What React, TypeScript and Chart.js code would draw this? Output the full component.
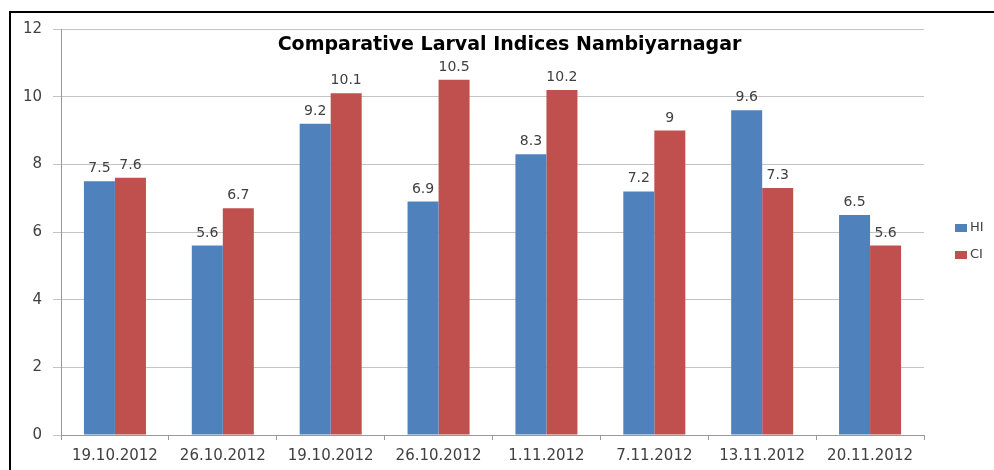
import React, { useEffect, useRef } from "react";
import { Chart, registerables } from "chart.js";

Chart.register(...registerables);

const categories = [
  "19.10.2012",
  "26.10.2012",
  "19.10.2012",
  "26.10.2012",
  "1.11.2012",
  "7.11.2012",
  "13.11.2012",
  "20.11.2012",
];
const hiValues = [7.5, 5.6, 9.2, 6.9, 8.3, 7.2, 9.6, 6.5];
const ciValues = [7.6, 6.7, 10.1, 10.5, 10.2, 9, 7.3, 5.6];
const seriesNames = ["HI", "CI"];
const seriesColors = ["#4F81BD", "#C0504D"];
const chartTitle = "Comparative Larval Indices Nambiyarnagar";

const FONT = "'DejaVu Sans', sans-serif";
const TEXT = "#404040";
const GRID = "#c4c4c4";

const framePlugin = {
  id: "frame",
  beforeDraw(chart: any) {
    const { ctx, width, height } = chart;
    ctx.save();
    ctx.fillStyle = "#ffffff";
    ctx.fillRect(0, 0, width, height);
    ctx.strokeStyle = "#000000";
    ctx.lineWidth = 2;
    ctx.beginPath();
    ctx.moveTo(10, height);
    ctx.lineTo(10, 12);
    ctx.lineTo(width, 12);
    ctx.stroke();
    ctx.restore();
  },
};

const overlayPlugin = {
  id: "overlay",
  afterDatasetsDraw(chart: any) {
    const { ctx, chartArea } = chart;
    ctx.save();
    // data labels
    ctx.font = `14px ${FONT}`;
    ctx.fillStyle = TEXT;
    ctx.textAlign = "center";
    ctx.textBaseline = "alphabetic";
    chart.data.datasets.forEach((ds: any, di: number) => {
      const meta = chart.getDatasetMeta(di);
      meta.data.forEach((bar: any, i: number) => {
        ctx.fillText(String(ds.data[i]), bar.x, bar.y - 9);
      });
    });
    // title
    ctx.font = `bold 19px ${FONT}`;
    ctx.fillStyle = "#000000";
    ctx.textBaseline = "middle";
    ctx.fillText(chartTitle, (chartArea.left + chartArea.right) / 2 + 17, chartArea.top + 16);
    // legend
    const midY = (chartArea.top + chartArea.bottom) / 2 + 9.5;
    const n = chart.data.datasets.length;
    chart.data.datasets.forEach((ds: any, di: number) => {
      const y = midY + (di - (n - 1) / 2) * 27;
      const x = chartArea.right + 31;
      ctx.fillStyle = ds.backgroundColor;
      ctx.fillRect(x, y - 4, 12, 8);
      ctx.fillStyle = TEXT;
      ctx.font = `13px ${FONT}`;
      ctx.textAlign = "left";
      ctx.textBaseline = "middle";
      ctx.fillText(ds.label, x + 15, y);
    });
    ctx.restore();
  },
};

export default function App() {
  const canvasRef = useRef<HTMLCanvasElement | null>(null);

  useEffect(() => {
    if (!canvasRef.current) return;
    const chart = new Chart(canvasRef.current, {
      type: "bar",
      data: {
        labels: categories,
        datasets: [
          { label: seriesNames[0], data: hiValues, backgroundColor: seriesColors[0] },
          { label: seriesNames[1], data: ciValues, backgroundColor: seriesColors[1] },
        ],
      },
      options: {
        responsive: false,
        animation: false,
        layout: { padding: { top: 29, right: 70, left: 0, bottom: 0 } },
        datasets: { bar: { categoryPercentage: 0.575, barPercentage: 1 } },
        plugins: {
          legend: { display: false },
          title: { display: false },
          tooltip: { enabled: false },
        },
        scales: {
          x: {
            grid: {
              offset: true,
              drawOnChartArea: false,
              drawTicks: true,
              tickLength: 5,
              color: "#999999",
            },
            border: { color: "#999999" },
            ticks: {
              font: { family: FONT, size: 15 },
              color: TEXT,
              padding: 7,
              maxRotation: 0,
              autoSkip: false,
            },
            afterFit(scale: any) {
              scale.height = 35;
            },
          },
          y: {
            min: 0,
            max: 12,
            grid: { color: GRID, tickLength: 8, drawTicks: true },
            border: { color: "#999999" },
            ticks: {
              stepSize: 2,
              font: { family: FONT, size: 15 },
              color: TEXT,
              padding: 11,
            },
            afterFit(scale: any) {
              scale.width = 61;
            },
          },
        },
      },
      plugins: [framePlugin, overlayPlugin],
    });
    return () => chart.destroy();
  }, []);

  return (
    <div style={{ position: "fixed", left: 0, top: 0, width: 994, height: 470, background: "#fff" }}>
      <canvas ref={canvasRef} width={994} height={470} style={{ display: "block" }} />
    </div>
  );
}
